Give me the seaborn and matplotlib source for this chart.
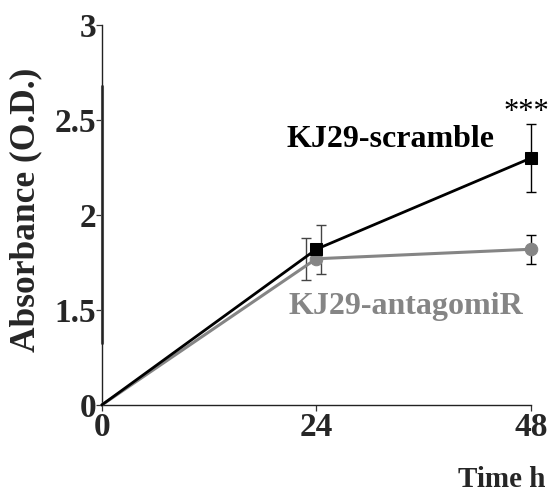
import numpy as np
import pandas as pd
import matplotlib
matplotlib.use("Agg")
import matplotlib.pyplot as plt
import seaborn as sns

# Absorbance time course for the two KJ29 transfections
time_h = [0, 24, 48]
scramble_od = [0.0, 1.82, 2.30]
scramble_err = [0.0, 0.13, 0.18]
antagomir_od = [0.0, 1.77, 1.82]
antagomir_err = [0.0, 0.11, 0.075]
y_ticks = [0, 1.5, 2, 2.5, 3]
y_tick_labels = ["0", "1.5", "2", "2.5", "3"]
x_ticks = [0, 24, 48]

sns.set_style("ticks")
plt.rcParams["font.family"] = ["Liberation Serif", "DejaVu Serif"]
plt.rcParams["font.weight"] = "bold"

df = pd.DataFrame({
    "time": time_h * 2,
    "od": scramble_od + antagomir_od,
    "group": ["KJ29-scramble"] * 3 + ["KJ29-antagomiR"] * 3,
})

fig = plt.figure(figsize=(5.53, 4.93), dpi=100)
ax = fig.add_axes([0.184, 0.1785, 0.776, 0.7705])

# Broken y axis: the 0..1.5 stretch is compressed to half a unit
def fwd(v):
    v = np.asarray(v, dtype=float)
    return np.where(v >= 1.5, v, 1.0 + v / 3.0)

def inv(u):
    u = np.asarray(u, dtype=float)
    return np.where(u >= 1.5, u, (u - 1.0) * 3.0)

ax.set_yscale("function", functions=(fwd, inv))

black = "#000000"
grey = "#858585"

# no marker at the origin, only at the measured time points
sns.lineplot(data=df[df.group == "KJ29-antagomiR"], x="time", y="od", ax=ax,
             color=grey, lw=2.2, marker="o", markersize=9, markeredgecolor=grey,
             markevery=[1, 2], clip_on=False, zorder=3)
sns.lineplot(data=df[df.group == "KJ29-scramble"], x="time", y="od", ax=ax,
             color=black, lw=2.0, marker="s", markersize=8, markeredgecolor=black,
             markevery=[1, 2], clip_on=False, zorder=4)

# error bars (drawn slightly apart at 24 h so both stay visible)
err_shift_grey = [0, -1.1, 0]
err_shift_black = [0, 0.55, 0]
for i in range(1, len(time_h)):
    ax.errorbar(time_h[i] + err_shift_grey[i], antagomir_od[i], yerr=antagomir_err[i],
                fmt="none", ecolor="#444444" if i == 1 else black, elinewidth=1.0,
                capsize=3.5, capthick=1.0, clip_on=False, zorder=2)
    ax.errorbar(time_h[i] + err_shift_black[i], scramble_od[i], yerr=scramble_err[i],
                fmt="none", ecolor="#444444" if i == 1 else black, elinewidth=1.0,
                capsize=3.5, capthick=1.0, clip_on=False, zorder=2)

ax.set_xlim(0, 48)
ax.set_ylim(0, 3)
ax.set_xticks(x_ticks)
ax.set_xticklabels([str(t) for t in x_ticks], fontsize=24, fontweight="bold")
ax.set_yticks(y_ticks)
ax.set_yticklabels(y_tick_labels, fontsize=24, fontweight="bold")
ax.yaxis.set_minor_locator(matplotlib.ticker.NullLocator())
ax.tick_params(axis="both", direction="out", length=4, width=0.9, color="#333333", pad=1)
ax.tick_params(axis="y", pad=0)

for side in ("top", "right"):
    ax.spines[side].set_visible(False)
for side in ("left", "bottom"):
    ax.spines[side].set_linewidth(1.0)
    ax.spines[side].set_color("#222222")

# doubled stretch of the y axis line
ax.axvline(0, ymin=0.163, ymax=0.84, color="#555555", lw=2.2, zorder=1, clip_on=False)

ax.set_xlabel("")
ax.set_ylabel("")
fig.text(0.047, 0.574, "Absorbance (O.D.)", rotation=90, ha="center", va="center",
         fontsize=25.5, fontweight="bold")
fig.text(0.828, 0.0, "Time h", ha="left", va="bottom", fontsize=21, fontweight="bold")

ax.text(32.3, 2.40, "KJ29-scramble", ha="center", va="center", fontsize=23,
        fontweight="bold", color=black)
ax.text(34.0, 1.52, "KJ29-antagomiR", ha="center", va="center", fontsize=23,
        fontweight="bold", color=grey)
ax.text(47.5, 2.54, "***", ha="center", va="center", fontsize=22,
        fontweight="normal", color=black, clip_on=False)

legend = ax.get_legend()
if legend is not None:
    legend.remove()

fig.savefig("out.png", dpi=100)
